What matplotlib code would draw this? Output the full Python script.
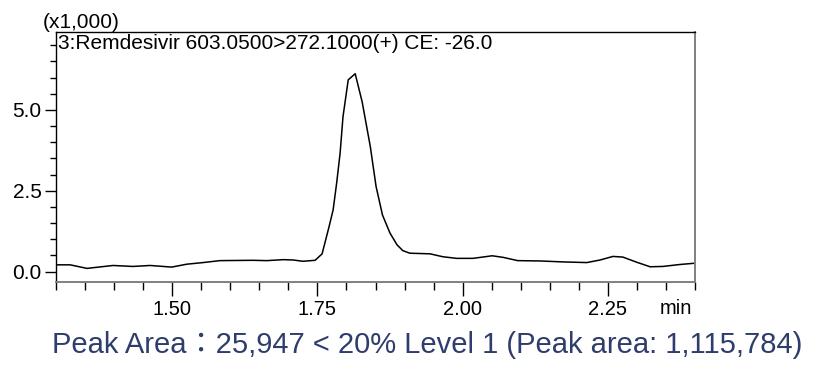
import matplotlib

matplotlib.use("Agg")
import matplotlib.pyplot as plt
from matplotlib.ticker import FixedLocator, MultipleLocator, NullFormatter

FACE = "Liberation Sans"
CAPTION_BLUE = "#2f3d6c"
GREY = "#808080"

# retention time (min) and intensity (x1,000 counts)
rt_min = [1.300, 1.324, 1.353, 1.398, 1.432, 1.462, 1.499, 1.525, 1.553, 1.582,
          1.639, 1.663, 1.691, 1.708, 1.725, 1.746, 1.758, 1.770, 1.777, 1.783,
          1.789, 1.794, 1.803, 1.815, 1.827, 1.841, 1.851, 1.862, 1.875, 1.887,
          1.897, 1.909, 1.944, 1.966, 1.990, 2.018, 2.051, 2.070, 2.095, 2.133,
          2.173, 2.214, 2.237, 2.259, 2.276, 2.300, 2.323, 2.345, 2.374, 2.400]
intensity = [0.21, 0.21, 0.10, 0.19, 0.16, 0.19, 0.14, 0.23, 0.28, 0.34,
             0.35, 0.34, 0.37, 0.36, 0.32, 0.35, 0.55, 1.39, 1.91, 2.73,
             3.66, 4.79, 5.93, 6.12, 5.25, 3.87, 2.63, 1.75, 1.19, 0.83,
             0.65, 0.57, 0.55, 0.46, 0.41, 0.41, 0.49, 0.44, 0.34, 0.33,
             0.30, 0.28, 0.36, 0.47, 0.45, 0.29, 0.15, 0.16, 0.22, 0.26]

x_major = [1.50, 1.75, 2.00, 2.25]
y_major = [0.0, 2.5, 5.0]
trace_label = "3:Remdesivir 603.0500>272.1000(+) CE: -26.0"
caption = "Peak Area\uff1a25,947 < 20% Level 1 (Peak area: 1,115,784)"


def main():
    plt.rcParams["font.family"] = [FACE, "DejaVu Sans"]
    fig = plt.figure(figsize=(8.34, 3.74), dpi=100)
    ax = fig.add_axes([0.0674, 0.2452, 0.7657, 0.6684])

    ax.plot(rt_min, intensity, color="black", lw=1.1)
    ax.set_xlim(1.30, 2.40)
    ax.set_ylim(-0.33, 7.40)

    ax.xaxis.set_major_locator(FixedLocator(x_major))
    ax.xaxis.set_minor_locator(MultipleLocator(0.05))
    ax.yaxis.set_major_locator(FixedLocator(y_major))
    ax.yaxis.set_minor_locator(MultipleLocator(0.5))
    ax.xaxis.set_minor_formatter(NullFormatter())
    ax.set_xticklabels(["%.2f" % v for v in x_major])
    ax.set_yticklabels(["%.1f" % v for v in y_major])

    ax.tick_params(axis="x", which="major", length=10, width=1.0, labelsize=14.5, pad=2.5)
    ax.tick_params(axis="x", which="minor", length=6, width=1.0)
    ax.tick_params(axis="y", which="major", length=8, width=1.0, labelsize=15, pad=2.5)
    ax.tick_params(axis="y", which="minor", length=4.5, width=1.0)

    for side in ("left", "top"):
        ax.spines[side].set_color("black")
        ax.spines[side].set_linewidth(1.0)
    for side in ("right", "bottom"):
        ax.spines[side].set_color(GREY)
        ax.spines[side].set_linewidth(1.4)

    ax.text(0.003, 7.05, trace_label, transform=ax.get_yaxis_transform(),
            ha="left", va="center", fontsize=15)
    fig.text(43 / 834, 1 - 22 / 374, "(x1,000)", ha="left", va="center", fontsize=15)
    fig.text(676 / 834, 1 - 308 / 374, "min", ha="center", va="center", fontsize=14.5)
    fig.text(52 / 834, 1 - 345 / 374, caption, ha="left", va="center", fontsize=21,
             color=CAPTION_BLUE, family=[FACE, "Noto Sans CJK TC", "DejaVu Sans"])

    fig.savefig("out.png", dpi=100)
    plt.close(fig)


if __name__ == "__main__":
    main()
